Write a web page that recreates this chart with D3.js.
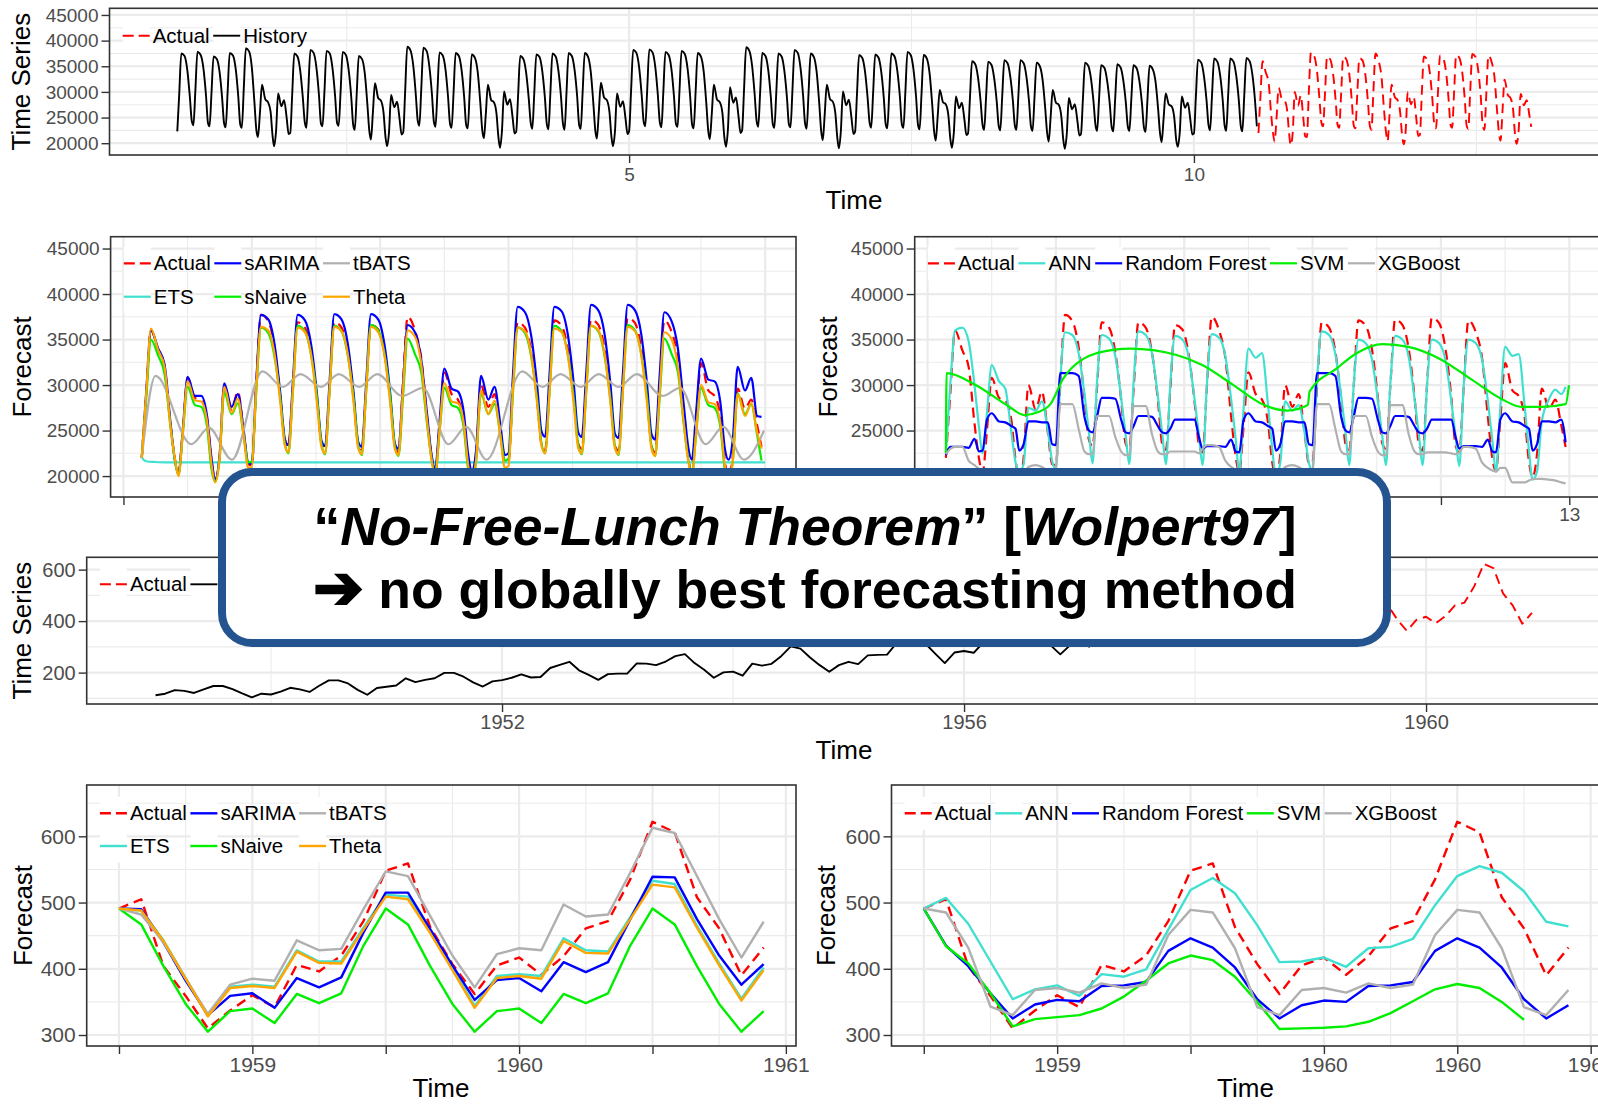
<!DOCTYPE html>
<html lang="en">
<head>
<meta charset="UTF-8">
<title>No-Free-Lunch: forecasting methods compared</title>
<script src="https://d3js.org/d3.v7.min.js"></script>
<style>
  body { margin: 0; background: #fff; }
  svg { display: block; font-family: "Liberation Sans", Arial, sans-serif; }
  .tick text { fill: #4d4d4d; }
  .tick line { stroke: #333; stroke-width: 1.4px; }
  .border { fill: none; stroke: #333; stroke-width: 1.6px; }
  .grid-major { stroke: #ebebeb; stroke-width: 2.2px; }
  .grid-minor { stroke: #ebebeb; stroke-width: 1.1px; }
  .series { fill: none; stroke-linejoin: round; }
  .axis-title { font-size: 26px; fill: #000; }
  .legend text { font-size: 20.5px; fill: #000; }
</style>
</head>
<body>
<svg width="1598" height="1105"></svg>
<script>
var svg = d3.select("svg");

// ---------- half-hourly electricity demand, thousands, 7 samples per day ----------
var dayFrac = [0, 0.12, 0.25, 0.45, 0.62, 0.78, 0.9];
var histStart = 1;          // Monday, week 1
var fcStart = 10 + 4 / 7;   // Friday, week 10

var loadHistory = [
  22.3,29.5,37.5,37.0,34.3,29.0,24.3, 23.5,30.2,37.8,37.2,34.6,29.3,24.0, 23.3,29.8,36.9,36.4,33.9,28.8,23.9, 23.1,30.0,37.6,37.1,34.5,29.1,23.7, 23.0,30.6,38.5,37.9,34.8,28.0,22.6, 21.2,25.8,31.4,28.6,28.0,26.2,21.6, 19.4,22.3,29.7,27.2,28.4,24.9,21.8,
  22.0,29.4,37.5,36.9,34.1,28.9,24.1, 23.0,30.3,38.2,37.6,34.8,29.4,23.9, 23.3,30.1,38.0,37.5,34.6,29.2,24.0, 23.4,30.0,37.8,37.2,34.3,29.0,23.6, 22.6,29.7,37.0,36.4,33.6,27.6,22.4, 20.7,25.9,31.7,28.8,28.3,26.0,21.3, 19.4,22.1,29.4,27.0,28.1,24.6,21.7,
  22.1,30.0,38.8,38.1,35.2,29.5,24.4, 23.4,30.6,38.6,38.0,35.0,29.6,24.2, 23.2,30.0,37.7,37.1,34.4,29.0,23.8, 23.0,29.8,37.6,37.0,34.2,28.9,23.6, 22.9,29.9,37.3,36.6,33.8,27.8,22.5, 21.0,25.7,31.4,28.4,28.0,25.8,21.2, 19.1,22.4,30.1,27.5,28.6,25.0,21.9,
  22.2,29.3,37.0,36.4,33.7,28.7,24.0, 22.8,29.6,37.3,36.8,34.0,28.9,23.7, 22.7,29.8,37.5,36.9,34.1,29.0,23.8, 22.6,29.9,37.6,37.0,34.3,29.1,23.6, 22.8,30.0,37.6,36.9,34.0,27.9,22.6, 20.9,26.0,31.8,28.9,28.4,26.1,21.4, 19.4,22.2,29.7,27.1,28.2,24.7,21.8,
  22.4,30.1,38.2,37.6,34.8,29.3,24.2, 23.3,30.4,38.3,37.7,34.9,29.4,24.1, 23.1,30.0,37.8,37.2,34.5,29.1,23.8, 23.2,30.2,38.0,37.4,34.6,29.2,23.7, 22.9,30.0,37.6,36.9,34.0,27.9,22.5, 20.8,25.6,31.4,28.5,28.0,25.9,21.2, 19.3,22.6,30.9,27.9,28.9,25.2,22.0,
  22.5,30.4,38.7,38.0,35.1,29.5,24.3, 23.2,30.0,37.6,37.0,34.3,29.0,23.8, 23.0,29.9,37.5,36.9,34.1,28.9,23.7, 23.1,30.3,38.2,37.6,34.7,29.3,23.9, 22.8,29.9,37.5,36.8,33.9,27.8,22.4, 20.6,25.6,31.4,28.6,28.1,25.8,21.1, 19.0,22.3,30.1,27.4,28.5,24.9,21.8,
  22.2,29.6,37.2,36.6,33.9,28.8,24.0, 23.0,29.8,37.3,36.7,34.0,28.9,23.7, 22.9,29.9,37.5,36.9,34.1,29.0,23.7, 23.0,30.1,37.8,37.2,34.4,29.1,23.6, 22.7,29.7,37.2,36.5,33.6,27.6,22.3, 20.5,25.2,30.4,28.0,27.6,25.5,21.0, 19.1,22.0,29.1,26.8,27.9,24.5,21.6,
  21.9,28.8,36.0,35.4,32.8,28.2,23.6, 22.6,29.0,35.9,35.3,32.7,28.1,23.4, 22.5,29.2,36.2,35.6,33.0,28.3,23.5, 22.6,29.2,36.2,35.6,33.0,28.2,23.3, 22.4,28.9,35.7,35.0,32.4,27.0,22.1, 20.3,25.1,30.4,27.9,27.5,25.3,20.8, 18.9,21.8,28.8,26.6,27.6,24.3,21.5,
  21.8,28.6,35.7,35.1,32.6,28.0,23.5, 22.4,28.6,35.2,34.7,32.2,27.8,23.2, 22.3,28.7,35.4,34.8,32.3,27.9,23.3, 22.4,28.6,35.2,34.6,32.1,27.7,23.1, 22.2,28.5,35.1,34.4,32.0,26.7,21.9, 20.2,24.8,29.7,27.5,27.2,25.0,20.7, 19.3,22.0,29.1,26.9,27.9,24.5,21.7,
  21.9,29.0,36.3,35.7,33.1,28.4,23.6, 22.5,29.3,36.5,35.9,33.3,28.5,23.5, 22.4,29.3,36.5,35.9,33.2,28.4,23.4, 22.3,29.4,36.6,36.0,33.4,28.5,23.3
];

var loadActual = [
  22.0,29.0,36.0,33.8,32.0,25.8,22.0, 20.3,25.0,30.8,28.6,28.3,26.3,21.8, 19.6,22.0,30.0,27.3,29.3,24.8,21.3,
  21.2,30.0,37.7,37.0,34.2,28.6,24.0, 23.3,29.6,36.9,36.3,33.6,28.4,23.6, 23.0,29.6,36.9,36.3,33.6,28.4,23.5, 22.9,29.5,36.6,36.1,33.4,28.2,23.4, 22.6,30.0,37.5,36.0,33.0,26.5,22.2,
  20.4,25.5,31.4,29.0,28.4,26.0,21.5, 19.8,22.4,30.0,27.6,29.0,24.8,21.4,
  21.6,29.6,36.9,36.3,33.7,28.4,23.5, 22.9,29.8,37.1,36.5,33.9,28.6,23.6, 23.0,29.9,37.2,36.6,34.0,28.7,23.4, 22.8,30.0,37.4,36.8,34.1,28.8,23.3, 22.6,29.8,37.1,35.8,33.0,26.5,22.0,
  20.5,26.2,32.4,29.4,28.8,26.5,21.6, 19.9,22.4,29.6,27.4,28.4,25.6,23.2
];
var loadSarima = [
  22.0,29.2,36.0,34.0,32.3,26.0,21.8, 20.2,25.2,30.9,28.8,28.8,26.6,22.0, 19.6,22.2,30.2,27.6,29.0,25.0,21.5,
  21.3,30.2,37.7,37.2,34.5,29.0,24.1, 23.4,30.3,37.7,37.1,34.4,28.9,23.9, 23.3,30.3,37.8,37.2,34.5,29.0,23.8, 23.2,30.3,37.8,37.2,34.4,28.9,23.6, 23.0,29.8,36.6,35.8,32.8,26.8,22.4,
  20.8,26.0,31.8,29.6,29.3,27.0,22.4, 20.6,23.0,31.0,28.4,29.8,25.6,22.3,
  22.5,31.0,38.6,38.0,35.4,30.0,24.9, 24.3,31.2,38.6,38.1,35.5,30.1,24.8, 24.3,31.3,38.8,38.2,35.6,30.1,24.7, 24.2,31.3,38.8,38.2,35.6,30.0,24.6, 24.0,30.9,38.0,37.0,34.0,27.8,23.2,
  21.8,27.2,32.9,30.6,30.4,28.0,23.0, 21.8,24.2,32.0,29.4,30.8,26.6,26.5
];
var loadSnaive = [
  22.0,28.4,35.0,33.2,31.2,25.6,21.8, 20.1,24.7,29.8,27.8,27.6,25.4,20.8, 19.4,21.8,29.2,26.8,28.0,24.4,21.5,
  21.6,29.1,36.3,35.7,33.1,28.4,23.6, 22.5,29.3,36.5,35.9,33.3,28.5,23.5, 22.4,29.3,36.5,35.9,33.2,28.4,23.4, 22.3,29.4,36.6,36.0,33.4,28.5,23.3, 22.2,28.5,35.1,33.4,31.4,25.7,21.9,
  20.2,24.8,29.7,27.8,27.5,25.3,20.7, 19.3,21.8,29.1,26.8,27.9,24.5,21.7,
  21.9,29.0,36.3,35.7,33.1,28.4,23.6, 22.5,29.3,36.5,35.9,33.3,28.5,23.5, 22.4,29.3,36.5,35.9,33.2,28.4,23.4, 22.3,29.4,36.6,36.0,33.4,28.5,23.3, 22.2,28.5,35.1,33.4,31.4,25.7,21.9,
  20.2,24.8,29.7,27.8,27.5,25.3,20.7, 19.3,21.8,29.1,26.8,27.9,24.5,21.7
];
var loadTheta = [
  22.0,29.0,36.2,33.8,32.0,25.5,22.0, 20.0,24.8,30.4,28.3,28.2,26.0,21.3, 19.3,21.8,29.8,26.9,28.5,24.4,20.9,
  21.0,29.5,36.4,36.0,33.4,28.0,23.4, 22.6,29.3,36.3,35.8,33.2,27.9,23.2, 22.5,29.3,36.4,35.9,33.3,27.9,23.1, 22.4,29.3,36.4,35.8,33.2,27.8,23.0, 22.3,29.2,36.0,35.3,32.3,26.0,21.8,
  20.1,25.0,30.2,28.2,28.0,25.8,21.2, 19.4,21.9,29.4,26.8,28.3,24.3,20.9,
  21.1,29.4,36.3,35.9,33.3,28.0,23.3, 22.5,29.3,36.2,35.8,33.2,27.9,23.1, 22.5,29.4,36.5,36.0,33.4,28.0,23.1, 22.4,29.4,36.4,35.9,33.3,27.9,23.0, 22.2,29.0,35.8,35.0,32.0,25.8,21.7,
  20.0,24.9,30.0,28.1,27.9,25.7,21.1, 19.3,21.8,29.0,26.6,28.0,24.8,23.0
];
var loadAnn = [
  22.5,30.0,36.0,36.3,34.8,30.0,25.5, 22.5,26.9,32.2,30.4,29.6,25.0,21.5, 20.5,21.3,27.5,27.2,28.2,25.0,21.6,
  20.8,30.5,35.8,35.5,33.5,29.0,24.8, 21.4,30.2,35.5,35.1,33.2,28.6,24.6, 21.3,30.4,35.9,35.5,33.5,28.8,24.7, 21.3,30.1,35.4,35.0,33.1,28.5,24.5, 21.2,30.2,35.6,35.2,33.2,28.4,24.2,
  20.5,27.5,34.0,33.0,33.5,28.0,23.0, 20.0,21.5,28.2,27.2,27.8,24.8,21.4,
  20.6,30.4,35.9,35.5,33.4,28.8,24.7, 21.2,29.9,35.0,34.6,32.8,28.3,24.4, 21.2,30.1,35.4,35.0,33.1,28.5,24.5, 21.2,29.9,35.0,34.6,32.8,28.3,24.3, 21.1,29.9,35.0,34.6,32.8,28.2,24.0,
  20.5,27.6,34.2,33.2,33.4,27.8,22.8, 19.6,20.5,26.0,28.5,29.5,29.0,29.8
];
var loadRf = [
  22.3,23.2,23.2,23.2,23.1,24.1,22.7, 22.8,26.2,26.9,26.0,25.9,25.5,25.2, 22.8,23.5,26.0,26.0,25.9,25.9,23.5,
  23.4,31.3,31.3,31.3,31.0,26.5,25.0, 24.8,26.5,28.6,28.6,28.5,26.2,24.8, 24.7,25.5,26.6,26.6,26.5,25.5,24.8, 24.7,25.2,26.2,26.2,26.2,26.2,24.3, 23.0,23.3,23.3,23.3,23.2,24.0,22.7,
  22.6,26.2,26.9,26.0,25.9,25.5,25.2, 22.8,23.5,26.0,26.0,25.9,25.9,23.5,
  23.4,31.3,31.3,31.3,31.0,26.5,25.0, 24.8,26.5,28.6,28.6,28.5,26.2,24.8, 24.7,25.5,26.6,26.6,26.5,25.5,24.8, 24.7,25.2,26.2,26.2,26.2,26.2,24.3, 23.0,23.3,23.3,23.3,23.2,24.0,22.7,
  22.6,26.2,26.9,26.0,25.9,25.5,25.2, 22.8,23.5,26.0,26.0,25.9,26.2,23.7
];
var loadXgb = [
  22.4,23.0,23.2,23.2,21.7,21.2,20.8, 20.6,20.5,20.5,20.5,20.4,20.3,20.2, 20.2,20.3,21.0,21.2,21.0,20.6,20.3,
  20.8,27.9,27.9,27.9,25.2,22.7,22.4, 22.4,26.6,26.6,26.6,24.3,22.7,22.3, 22.3,27.7,27.7,27.7,24.6,22.7,22.4, 22.4,22.7,22.7,22.7,22.7,22.7,22.5, 23.0,23.4,23.4,23.2,21.7,21.0,20.7,
  20.5,20.4,20.4,20.4,20.3,20.2,20.2, 20.2,20.3,21.0,21.2,21.0,20.6,20.3,
  20.8,27.9,27.9,27.9,25.2,22.7,22.4, 22.4,26.6,26.6,26.6,24.3,22.7,22.3, 22.3,27.8,27.8,27.8,24.6,22.7,22.4, 22.4,22.6,22.6,22.6,22.6,22.5,22.4, 22.6,23.2,23.2,23.0,21.5,20.9,20.6,
  20.5,20.9,20.9,19.3,19.3,19.3,19.5, 19.7,19.7,19.7,19.6,19.5,19.3,19.2
];
// smooth forecasts, read at their turning points (days after forecast start)
var etsDay = [0, 0.05, 0.15, 0.35, 0.7, 17];
var etsLoad = [22.1, 21.8, 21.6, 21.55, 21.5, 21.5];
var tbatsDay = [0, 0.375, 1.35, 1.83, 2.46, 3.29, 3.85, 4.33, 4.89, 5.375, 5.93, 6.42, 7.1, 7.67, 8.36, 8.85, 9.4,
                10.375, 10.93, 11.42, 11.97, 12.46, 13.0, 13.5, 14.2, 14.68, 15.375, 15.86, 16.42, 16.97];
var tbatsLoad = [22.0, 31.0, 23.5, 25.3, 21.8, 31.5, 29.8, 31.2, 29.8, 31.2, 29.8, 31.2, 28.8, 29.7, 23.5, 25.4, 21.8,
                 31.5, 29.8, 31.2, 29.8, 31.2, 29.8, 31.2, 28.8, 29.7, 23.5, 25.4, 21.8, 25.0];
var svmDay = [0, 0.02, 0.81, 1.66, 2.15, 2.5, 2.85, 3.2, 3.76, 4.6, 5.03, 6.29, 6.99, 7.84, 8.68, 9.31, 9.87, 9.92,
              10.65, 11.2, 11.91, 12.61, 13.46, 14.3, 15.14, 15.7, 16.26, 16.9, 16.99];
var svmLoad = [22.5, 31.3, 30.0, 27.8, 26.7, 27.0, 27.9, 30.7, 32.9, 33.9, 34.0, 33.3, 32.2, 30.0, 27.8, 27.2, 27.8, 29.3,
               31.8, 33.5, 34.5, 34.2, 32.9, 30.7, 28.5, 27.6, 27.6, 27.9, 30.0];

// ---------- monthly air passengers ----------
var apStart = 1949;       // Jan 1949
var apFcStart = 1958.5;   // Jul 1958
var apHistory = [
  112,118,132,129,121,135,148,148,136,119,104,118,
  115,126,141,135,125,149,170,170,158,133,114,140,
  145,150,178,163,172,178,199,199,184,162,146,166,
  171,180,193,181,183,218,230,242,209,191,172,194,
  196,196,236,235,229,243,264,272,237,211,180,201,
  204,188,235,227,234,264,302,293,259,229,203,229,
  242,233,267,269,270,315,364,347,312,274,237,278,
  284,277,317,313,318,374,413,405,355,306,271,306,
  315,301,356,348,355,422,465,467,404,347,305,336,
  340,318,362,348,363,435,491
];
var apActual = [491,505,404,359,310,337,360,342,406,396,420,472,548,559,463,407,362,405,417,391,419,461,472,535,622,606,508,461,390,432];
var apSarima = [491,490,440,382,330,359,363,341,386,372,387,455,515,515,460,405,353,383,386,366,410,395,410,475,539,538,475,420,376,407];
var apEts    = [491,488,443,386,329,373,376,373,428,411,411,462,512,509,457,401,344,389,392,389,446,428,426,478,533,528,465,408,355,402];
var apTheta  = [491,488,442,385,328,371,374,371,426,409,408,459,509,505,454,398,341,386,389,385,442,424,423,475,527,523,462,405,352,398];
var apTbats  = [491,482,440,385,332,376,385,382,443,428,430,490,547,540,480,420,372,422,431,428,497,479,482,545,613,605,540,475,417,471];
var apSnaive = [491,467,404,347,305,336,340,318,362,348,363,435,491,467,404,347,305,336,340,318,362,348,363,435,491,467,404,347,305,336];
var apAnn    = [491,507,468,411,354,369,375,359,392,388,399,459,519,537,514,466,410,411,417,403,431,433,445,496,540,555,545,517,471,464];
var apRf     = [491,435,404,363,325,346,353,351,374,375,380,427,446,432,402,354,325,345,352,350,374,375,380,427,446,432,402,354,325,345];
var apXgb    = [491,485,432,343,330,368,371,364,378,371,376,451,489,485,431,342,330,368,371,364,378,371,376,451,489,485,431,342,330,368];
var apSvm    = [491,434,408,363,313,324,327,330,340,358,382,408,420,413,388,350,309,310,311,313,320,333,351,369,377,371,350,323];

// ---------- helpers ----------
function daily(vals, start) {
  return vals.map(function(v, i) {
    return { t: start + (Math.floor(i / 7) + dayFrac[i % 7]) / 7, v: v * 1000 };
  });
}
function byDay(days, vals) {
  return days.map(function(d, i) { return { t: fcStart + d / 7, v: vals[i] * 1000 }; });
}
function monthly(vals, start) {
  return vals.map(function(v, i) { return { t: start + i / 12, v: v }; });
}

var red = "#ff0000", blue = "#0000ff", grey = "#b0b0b0", turq = "#40e0d0", green = "#00ee00", orange = "#ffa500";

function legend(g, items, x0, rowY, ncol, lw) {
  var lg = g.append("g").attr("class", "legend");
  var labels = items.map(function(it) { return lg.append("text").attr("dy", "0.35em").text(it.label); });
  var colW = [];
  items.forEach(function(it, i) {
    var c = i % ncol;
    colW[c] = Math.max(colW[c] || 0, labels[i].node().getComputedTextLength());
  });
  var colX = [x0];
  for (var c = 1; c < ncol; c++) colX[c] = colX[c - 1] + 27 + 3 + colW[c - 1] + 3.5;
  items.forEach(function(it, i) {
    var kx = colX[i % ncol], ky = rowY[Math.floor(i / ncol)];
    lg.insert("rect", "text").attr("x", kx).attr("y", ky - 16.5).attr("width", 27).attr("height", 33).style("fill", "#fff");
    lg.append("line").attr("x1", kx).attr("x2", kx + 27).attr("y1", ky).attr("y2", ky)
      .style("stroke", it.color).style("stroke-width", lw)
      .style("stroke-dasharray", it.dash ? "11,5" : null);
    labels[i].attr("x", kx + 30).attr("y", ky);
  });
}

function panel(cfg) {
  var g = svg.append("g");
  var x = d3.scaleLinear().domain(cfg.xDomain).range([cfg.left, cfg.right]);
  var y = d3.scaleLinear().domain(cfg.yDomain).range([cfg.bottom, cfg.top]);

  // grid lines
  function vgrid(vals, cls) {
    g.selectAll(null).data(vals).enter().append("line").attr("class", cls)
      .attr("x1", function(d) { return x(d); }).attr("x2", function(d) { return x(d); })
      .attr("y1", cfg.top).attr("y2", cfg.bottom);
  }
  function hgrid(vals, cls) {
    g.selectAll(null).data(vals).enter().append("line").attr("class", cls)
      .attr("y1", function(d) { return y(d); }).attr("y2", function(d) { return y(d); })
      .attr("x1", cfg.left).attr("x2", cfg.right);
  }
  hgrid(cfg.yMinor, "grid-minor");
  vgrid(cfg.xMinor, "grid-minor");
  hgrid(cfg.yTicks, "grid-major");
  vgrid(cfg.xTicks, "grid-major");

  var line = d3.line().x(function(d) { return x(d.t); }).y(function(d) { return y(d.v); });
  cfg.series.forEach(function(s) {
    g.append("path").datum(s.points).attr("class", "series")
      .attr("d", line.curve(s.smooth || cfg.smooth ? d3.curveMonotoneX : d3.curveLinear))
      .style("stroke", s.color).style("stroke-width", cfg.lw)
      .style("stroke-dasharray", s.dash ? "10,6" : null);
  });

  g.append("rect").attr("class", "border")
    .attr("x", cfg.left).attr("y", cfg.top)
    .attr("width", cfg.right - cfg.left).attr("height", cfg.bottom - cfg.top);

  var xa = g.append("g").attr("transform", "translate(0," + cfg.bottom + ")")
    .call(d3.axisBottom(x).tickValues(cfg.xTicks)
      .tickFormat(function(d, i) { return cfg.xLabels[i]; })
      .tickSize(8).tickPadding(cfg.xPad));
  var ya = g.append("g").attr("transform", "translate(" + cfg.left + ",0)")
    .call(d3.axisLeft(y).tickValues(cfg.yTicks).tickFormat(d3.format("d")).tickSize(8).tickPadding(3));
  [xa, ya].forEach(function(a) {
    a.select(".domain").remove();
    a.attr("font-size", cfg.tickFont).attr("font-family", "'Liberation Sans', Arial, sans-serif");
  });

  if (cfg.xTitle) {
    g.append("text").attr("class", "axis-title").attr("text-anchor", "middle")
      .attr("x", cfg.xTitle[0]).attr("y", cfg.xTitle[1]).text("Time");
  }
  g.append("text").attr("class", "axis-title").attr("text-anchor", "middle").attr("dy", "0.35em")
    .attr("transform", "translate(" + cfg.yTitle + "," + ((cfg.top + cfg.bottom) / 2) + ") rotate(-90)")
    .text(cfg.yLabel);

  legend(g, cfg.legend, cfg.left + 13.2, cfg.legendY, cfg.legendCols, cfg.lw);
}

var loadYTicks = [20000, 25000, 30000, 35000, 40000, 45000];
var loadYMinor = [22500, 27500, 32500, 37500, 42500];
var midTicks = [10.5, 11, 11.5, 12, 12.5, 13];
var midMinor = [10.75, 11.25, 11.75, 12.25, 12.75];
var botTicks = [1958.5, 1959, 1959.5, 1960, 1960.5, 1961];
var botMinor = [1958.75, 1959.25, 1959.75, 1960.25, 1960.75];

var actualLoad = daily(loadActual, fcStart);
var actualAp = monthly(apActual, apFcStart);

// row 1: electricity history
panel({
  left: 109.5, right: 1600.6, top: 8.3, bottom: 155,
  xDomain: [0.4, 13.6], yDomain: [17700, 46300],
  xTicks: [5, 10], xLabels: ["5", "10"], xMinor: [2.5, 7.5, 12.5],
  yTicks: loadYTicks, yMinor: loadYMinor, tickFont: 19, xPad: 5, lw: 1.9, smooth: true,
  xTitle: [854, 209], yTitle: 20.5, yLabel: "Time Series",
  series: [
    { points: actualLoad, color: red, dash: true },
    { points: daily(loadHistory, histStart), color: "#000" }
  ],
  legend: [{ label: "Actual", color: red, dash: true }, { label: "History", color: "#000" }],
  legendY: [35.7], legendCols: 2
});

// row 2: electricity forecasts (tick labels and titles sit under the call-out box)
panel({
  left: 110.6, right: 796, top: 236.7, bottom: 497,
  xDomain: [10.45, 13.12], yDomain: [17700, 46300],
  xTicks: midTicks, xLabels: ["", "", "", "", "", ""], xMinor: midMinor,
  yTicks: loadYTicks, yMinor: loadYMinor, tickFont: 19, xPad: 3, lw: 2.2, smooth: true,
  xTitle: null, yTitle: 22, yLabel: "Forecast",
  series: [
    { points: actualLoad, color: red, dash: true },
    { points: byDay(etsDay, etsLoad), color: turq },
    { points: daily(loadSarima, fcStart), color: blue },
    { points: daily(loadSnaive, fcStart), color: green },
    { points: byDay(tbatsDay, tbatsLoad), color: grey },
    { points: daily(loadTheta, fcStart), color: orange }
  ],
  legend: [
    { label: "Actual", color: red, dash: true }, { label: "sARIMA", color: blue }, { label: "tBATS", color: grey },
    { label: "ETS", color: turq }, { label: "sNaive", color: green }, { label: "Theta", color: orange }
  ],
  legendY: [263.3, 296.7], legendCols: 3
});

panel({
  left: 914.7, right: 1600.1, top: 236.7, bottom: 497,
  xDomain: [10.45, 13.12], yDomain: [17700, 46300],
  xTicks: midTicks, xLabels: ["", "", "", "", "", "13"], xMinor: midMinor,
  yTicks: loadYTicks, yMinor: loadYMinor, tickFont: 19, xPad: 3, lw: 2.2, smooth: true,
  xTitle: null, yTitle: 828, yLabel: "Forecast",
  series: [
    { points: actualLoad, color: red, dash: true },
    { points: daily(loadAnn, fcStart), color: turq },
    { points: daily(loadRf, fcStart), color: blue },
    { points: byDay(svmDay, svmLoad), color: green },
    { points: daily(loadXgb, fcStart), color: grey }
  ],
  legend: [
    { label: "Actual", color: red, dash: true }, { label: "ANN", color: turq },
    { label: "Random Forest", color: blue }, { label: "SVM", color: green }, { label: "XGBoost", color: grey }
  ],
  legendY: [263.3], legendCols: 5
});

// row 3: air passengers history
panel({
  left: 86.7, right: 1600.8, top: 557.3, bottom: 704,
  xDomain: [1948.404, 1961.513], yDomain: [78.1, 647.9],
  xTicks: [1952, 1956, 1960], xLabels: ["1952", "1956", "1960"], xMinor: [1950, 1954, 1958],
  yTicks: [200, 400, 600], yMinor: [100, 300, 500], tickFont: 20, xPad: 3, lw: 1.9,
  xTitle: [844, 759], yTitle: 22, yLabel: "Time Series",
  series: [
    { points: actualAp, color: red, dash: true },
    { points: monthly(apHistory, apStart), color: "#000" }
  ],
  legend: [{ label: "Actual", color: red, dash: true }, { label: "History", color: "#000" }],
  legendY: [584.3], legendCols: 2
});

// row 4: air passenger forecasts
panel({
  left: 86.7, right: 796, top: 785, bottom: 1046,
  xDomain: [1958.379, 1961.038], yDomain: [283.4, 677.5],
  xTicks: botTicks, xLabels: ["", "1959", "", "1960", "", "1961"], xMinor: botMinor,
  yTicks: [300, 400, 500, 600], yMinor: [350, 450, 550, 650], tickFont: 21, xPad: 3, lw: 2.4,
  xTitle: [441, 1097], yTitle: 23, yLabel: "Forecast",
  series: [
    { points: actualAp, color: red, dash: true },
    { points: monthly(apEts, apFcStart), color: turq },
    { points: monthly(apSarima, apFcStart), color: blue },
    { points: monthly(apSnaive, apFcStart), color: green },
    { points: monthly(apTbats, apFcStart), color: grey },
    { points: monthly(apTheta, apFcStart), color: orange }
  ],
  legend: [
    { label: "Actual", color: red, dash: true }, { label: "sARIMA", color: blue }, { label: "tBATS", color: grey },
    { label: "ETS", color: turq }, { label: "sNaive", color: green }, { label: "Theta", color: orange }
  ],
  legendY: [813.3, 846], legendCols: 3
});

panel({
  left: 891.5, right: 1600.8, top: 785, bottom: 1046,
  xDomain: [1958.379, 1961.038], yDomain: [283.4, 677.5],
  xTicks: botTicks, xLabels: ["", "1959", "", "1960", "1960", "1961"], xMinor: botMinor,
  yTicks: [300, 400, 500, 600], yMinor: [350, 450, 550, 650], tickFont: 21, xPad: 3, lw: 2.4,
  xTitle: [1245.5, 1097], yTitle: 826, yLabel: "Forecast",
  series: [
    { points: actualAp, color: red, dash: true },
    { points: monthly(apAnn, apFcStart), color: turq },
    { points: monthly(apRf, apFcStart), color: blue },
    { points: monthly(apSvm, apFcStart), color: green },
    { points: monthly(apXgb, apFcStart), color: grey }
  ],
  legend: [
    { label: "Actual", color: red, dash: true }, { label: "ANN", color: turq },
    { label: "Random Forest", color: blue }, { label: "SVM", color: green }, { label: "XGBoost", color: grey }
  ],
  legendY: [813.3], legendCols: 5
});

// overlay call-out
var note = svg.append("g");
note.append("rect").attr("x", 222).attr("y", 472).attr("width", 1165).attr("height", 171).attr("rx", 30)
  .style("fill", "#fff").style("stroke", "#24548f").style("stroke-width", 8);
var t1 = note.append("text").attr("x", 805).attr("y", 545).attr("text-anchor", "middle")
  .style("font-weight", "bold").style("font-size", "53.5px");
t1.append("tspan").text("\u201c");
t1.append("tspan").style("font-style", "italic").text("No-Free-Lunch Theorem");
t1.append("tspan").text("\u201d [");
t1.append("tspan").style("font-style", "italic").text("Wolpert97");
t1.append("tspan").text("]");
var t2 = note.append("text").attr("x", 805).attr("y", 608).attr("text-anchor", "middle")
  .style("font-weight", "bold").style("font-size", "53.5px");
t2.append("tspan").style("font-family", "'DejaVu Sans', sans-serif").style("font-size", "60px")
  .style("stroke", "#000").style("stroke-width", 2.5).text("\u2794");
t2.append("tspan").text(" no globally best forecasting method");
</script>
</body>
</html>
